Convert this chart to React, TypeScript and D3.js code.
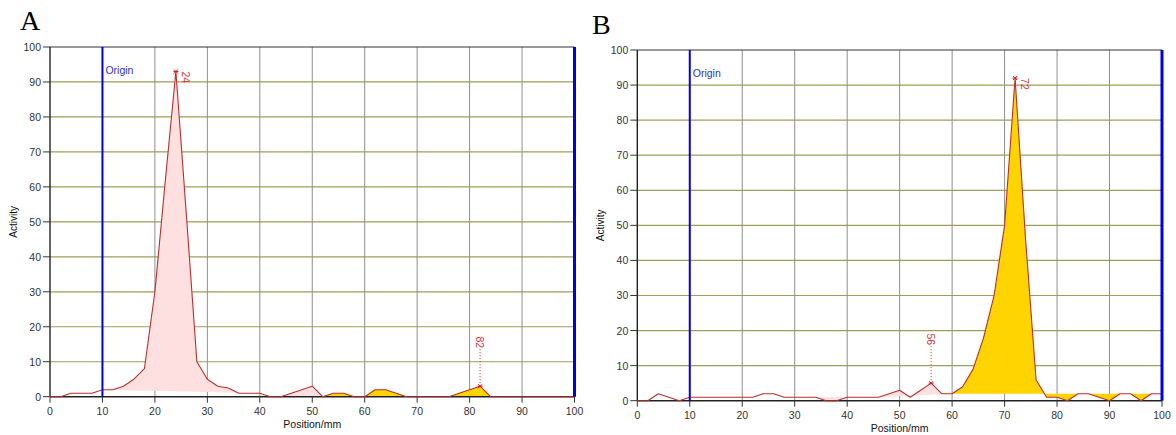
import React from "react";
import * as d3 from "d3";

// Scan positions along the plate (mm)
const positions = [
  0, 2, 4, 6, 8, 10, 12, 14, 16, 18, 20, 22, 24, 26, 28, 30, 32, 34, 36, 38, 40,
  42, 44, 46, 48, 50, 52, 54, 56, 58, 60, 62, 64, 66, 68, 70, 72, 74, 76, 78, 80,
  82, 84, 86, 88, 90, 92, 94, 96, 98, 100,
];

// Radioactivity profile, lane A
const activityA = [
  0, 0, 1, 1, 1, 2, 2, 3, 5, 8, 30, 62, 93, 52, 10, 5, 3, 2.5, 1, 1, 1,
  0, 0, 1, 2, 3, 0, 1, 1, 0, 0, 2, 2, 1, 0, 0, 0, 0, 0, 1, 2,
  3, 0, 0, 0, 0, 0, 0, 0, 0, 0,
];

// Radioactivity profile, lane B
const activityB = [
  0, 0, 2, 1, 0, 1, 1, 1, 1, 1, 1, 1, 2, 2, 1, 1, 1, 1, 0, 0, 1,
  1, 1, 1, 2, 3, 1, 3, 5, 2, 2, 4, 9, 18, 30, 50, 92, 46, 6, 1, 1,
  0, 2, 2, 1, 0, 2, 2, 0, 2, 2,
];

// Integration regions [from, to, kind]
const regionsA: [number, number, string][] = [
  [10, 40, "minor"],
  [44, 52, "minor"],
  [52, 58, "main"],
  [60, 68, "main"],
  [76, 84, "main"],
];
const regionsB: [number, number, string][] = [
  [34, 40, "minor"],
  [46, 60, "minor"],
  [60, 100, "main"],
];

// Labelled peak positions (mm)
const peaksA = [24, 82];
const peaksB = [56, 72];

const xTicks = [0, 10, 20, 30, 40, 50, 60, 70, 80, 90, 100];
const yTicks = [0, 10, 20, 30, 40, 50, 60, 70, 80, 90, 100];
const originPos = 10;
const frontPos = 100;

const FONT = "'Liberation Sans', Arial, sans-serif";
const FILL: Record<string, string> = { minor: "#fde0df", main: "#ffd400" };

type PanelProps = {
  letter: string;
  values: number[];
  regions: [number, number, string][];
  peaks: number[];
  left: number;
  right: number;
  top: number;
  bottom: number;
  letterX: number;
  letterY: number;
};

function Panel(p: PanelProps) {
  const x = d3.scaleLinear().domain([0, 100]).range([p.left, p.right]);
  const y = d3.scaleLinear().domain([0, 100]).range([p.bottom, p.top]);
  const pts = positions.map((pos, i) => ({ pos, v: p.values[i] }));
  const valueAt = (pos: number) => p.values[positions.indexOf(pos)];

  const line = d3
    .line<{ pos: number; v: number }>()
    .x((d) => x(d.pos))
    .y((d) => y(d.v));

  const fills = p.regions.map(([from, to, kind], k) => {
    const b0 = valueAt(from);
    const b1 = valueAt(to);
    const base = (pos: number) => b0 + ((b1 - b0) * (pos - from)) / (to - from);
    const seg = pts.filter((d) => d.pos >= from && d.pos <= to);
    const area = d3
      .area<{ pos: number; v: number }>()
      .x((d) => x(d.pos))
      .y0((d) => y(base(d.pos)))
      .y1((d) => y(d.v));
    return <path key={k} d={area(seg) || ""} fill={FILL[kind]} stroke="none" />;
  });

  const cx = (p.left + p.right) / 2;
  const cy = (p.top + p.bottom) / 2;

  return (
    <g>
      <text x={p.letterX} y={p.letterY} fontFamily="'Liberation Serif', 'Times New Roman', serif" fontSize={28} fill="#000">
        {p.letter}
      </text>
      <rect x={p.left} y={p.top} width={p.right - p.left} height={p.bottom - p.top} fill="#fff" />
      {/* horizontal grid */}
      {yTicks
        .filter((t) => t > 0 && t < 100)
        .map((t) => (
          <line key={"h" + t} x1={p.left} x2={p.right} y1={y(t)} y2={y(t)} stroke="#9e9e58" strokeWidth={1.2} />
        ))}
      {/* vertical grid */}
      {xTicks
        .filter((t) => t > 0 && t < 100 && t !== originPos)
        .map((t) => (
          <line key={"v" + t} x1={x(t)} x2={x(t)} y1={p.top} y2={p.bottom} stroke="#8f8f8f" strokeWidth={1} />
        ))}
      {fills}
      {/* frame */}
      <line x1={p.left} x2={p.right} y1={p.top} y2={p.top} stroke="#333" strokeWidth={1.2} />
      <line x1={p.left} x2={p.left} y1={p.top} y2={p.bottom} stroke="#222" strokeWidth={1.4} />
      <line x1={p.left} x2={p.right} y1={p.bottom} y2={p.bottom} stroke="#222" strokeWidth={1.4} />
      {/* y ticks */}
      {yTicks.map((t) => (
        <g key={"yt" + t}>
          <line x1={p.left - 7} x2={p.left} y1={y(t)} y2={y(t)} stroke="#333" />
          <text x={p.left - 9} y={y(t) + 4} textAnchor="end" fontFamily={FONT} fontSize={10.5} fill="#333">
            {t}
          </text>
        </g>
      ))}
      {/* x ticks */}
      {xTicks.map((t) => (
        <g key={"xt" + t}>
          <line x1={x(t)} x2={x(t)} y1={p.bottom} y2={p.bottom + 6} stroke="#333" />
          <text x={x(t)} y={p.bottom + 18} textAnchor="middle" fontFamily={FONT} fontSize={10.5} fill="#333">
            {t}
          </text>
        </g>
      ))}
      <text
        transform={`translate(${p.left - 33},${cy}) rotate(-90)`}
        textAnchor="middle"
        fontFamily={FONT}
        fontSize={10}
        fill="#111"
      >
        Activity
      </text>
      <text x={cx} y={p.bottom + 31} textAnchor="middle" fontFamily={FONT} fontSize={10.5} fill="#111">
        Position/mm
      </text>
      {/* profile */}
      <path d={line(pts) || ""} fill="none" stroke="#b8302e" strokeWidth={1.1} strokeLinejoin="round" />
      {/* origin and front */}
      <line x1={x(originPos)} x2={x(originPos)} y1={p.top} y2={p.bottom} stroke="#0000e0" strokeWidth={2} />
      <line x1={x(frontPos)} x2={x(frontPos)} y1={p.top} y2={p.bottom} stroke="#0000e0" strokeWidth={3} />
      <text x={x(originPos) + 3} y={p.top + 27} fontFamily={FONT} fontSize={10.5} fill="#3030c8">
        Origin
      </text>
      {/* peak markers and labels */}
      {p.peaks.map((pos) => {
        const v = valueAt(pos);
        const px = x(pos);
        const py = y(v);
        const star = (
          <g stroke="#e01818" strokeWidth={1}>
            <line x1={px - 2.5} x2={px + 2.5} y1={py} y2={py} />
            <line x1={px - 2} x2={px + 2} y1={py - 2} y2={py + 2} />
            <line x1={px - 2} x2={px + 2} y1={py + 2} y2={py - 2} />
          </g>
        );
        if (v > 50) {
          return (
            <g key={"pk" + pos}>
              {star}
              <text
                transform={`translate(${px + 6},${py}) rotate(90)`}
                fontFamily={FONT}
                fontSize={10.5}
                fill="#d03838"
              >
                {pos}
              </text>
            </g>
          );
        }
        return (
          <g key={"pk" + pos}>
            {star}
            <line x1={px} x2={px} y1={py - 3} y2={py - 37} stroke="#e02020" strokeWidth={1} strokeDasharray="1,2" />
            <text
              transform={`translate(${px - 4},${py - 38}) rotate(90)`}
              textAnchor="end"
              fontFamily={FONT}
              fontSize={10.5}
              fill="#d03838"
            >
              {pos}
            </text>
          </g>
        );
      })}
    </g>
  );
}

export default function App() {
  return (
    <div style={{ position: "absolute", left: 0, top: 0 }}>
      <svg width={1176} height={435} viewBox="0 0 1176 435" style={{ display: "block", background: "#fff" }}>
        <rect width={1176} height={435} fill="#fff" />
        <Panel
          letter="A"
          values={activityA}
          regions={regionsA}
          peaks={peaksA}
          left={50}
          right={574.5}
          top={47}
          bottom={396.7}
          letterX={20}
          letterY={30}
        />
        <Panel
          letter="B"
          values={activityB}
          regions={regionsB}
          peaks={peaksB}
          left={637.3}
          right={1162}
          top={50}
          bottom={400.7}
          letterX={592}
          letterY={34}
        />
      </svg>
    </div>
  );
}
